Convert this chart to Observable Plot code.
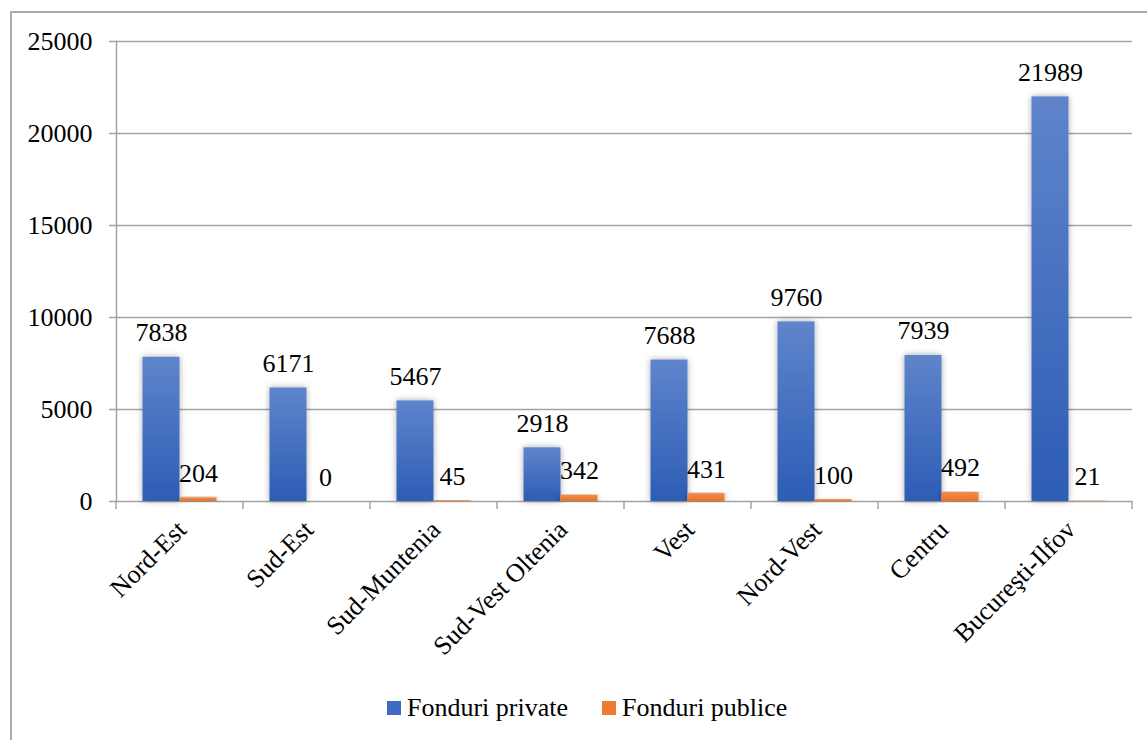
<!DOCTYPE html>
<html>
<head>
<meta charset="utf-8">
<script src="https://cdn.jsdelivr.net/npm/d3@7"></script>
<script src="https://cdn.jsdelivr.net/npm/@observablehq/plot@0.6"></script>
<style>
  html, body { margin: 0; padding: 0; background: #fff; }
  body { width: 1147px; height: 740px; position: relative; overflow: hidden;
         font-family: "Liberation Serif", "Times New Roman", serif; }
  #frame { position: absolute; left: 10px; top: 11px; width: 1200px; height: 800px;
           border-left: 2px solid #ababab; border-top: 2px solid #ababab; }
  #chart { position: absolute; left: 0; top: 0; }
  #chart svg, #chart svg text { font-family: "Liberation Serif", "Times New Roman", serif; }
  #legend { position: absolute; left: 387px; top: 693px; display: flex; align-items: center;
            font-size: 26px; color: #000; }
  #legend .sw { width: 14px; height: 14px; display: inline-block; margin-right: 6px; }
  #legend .item { display: flex; align-items: center; margin-right: 34px; }
</style>
</head>
<body>
<div id="frame"></div>
<div id="chart"></div>
<div id="legend"></div>
<script>
// Regions of Romania and funding totals per source
const regions = ["Nord-Est", "Sud-Est", "Sud-Muntenia", "Sud-Vest Oltenia", "Vest", "Nord-Vest", "Centru", "Bucureşti-Ilfov"];
const fonduriPrivate = [7838, 6171, 5467, 2918, 7688, 9760, 7939, 21989];
const fonduriPublice = [204, 0, 45, 342, 431, 100, 492, 21];
const seriesNames = ["Fonduri private", "Fonduri publice"];
const yTicks = [0, 5000, 10000, 15000, 20000, 25000];

const rows = regions.map((r, i) => ({region: r, priv: fonduriPrivate[i], pub: fonduriPublice[i]}));

const font = "Liberation Serif, Times New Roman, serif";
const gridColor = "#a3a3a3";
const fs = 26;

// Tick marks drawn at the boundaries between region bands, below the baseline
function bandBoundaryTicks(index, scales, values, dims) {
  const x = scales.x;
  const step = x(regions[1]) - x(regions[0]);
  const xs = regions.map(r => x(r)).concat([x(regions[regions.length - 1]) + step]);
  const y0 = dims.height - dims.marginBottom;
  const g = d3.create("svg:g").attr("stroke", gridColor).attr("stroke-width", 1.5);
  g.selectAll("line").data(xs).join("line")
    .attr("x1", d => d).attr("x2", d => d)
    .attr("y1", y0).attr("y2", y0 + 8);
  return g.node();
}

const chart = Plot.plot({
  width: 1147,
  height: 680,
  marginLeft: 116,
  marginRight: 15,
  marginTop: 41,
  marginBottom: 179,
  style: {fontFamily: font, fontSize: fs + "px", color: "#000", background: "transparent"},
  x: {type: "band", domain: regions, padding: 0},
  y: {domain: [0, 25000]},
  marks: [
    Plot.gridY(yTicks, {stroke: gridColor, strokeOpacity: 1, strokeWidth: 1.5}),
    Plot.axisY(yTicks, {tickSize: 7, tickPadding: 17, stroke: gridColor, strokeWidth: 1.5,
                        fontSize: fs, fontFamily: font, tickFormat: d => String(d), label: null}),
    Plot.frame({anchor: "left", stroke: gridColor, strokeWidth: 1.5}),
    Plot.axisX({tickSize: 0, tickRotate: -45, tickPadding: 24, dx: 2, fontSize: fs,
                fontFamily: font, label: null}),
    bandBoundaryTicks,
    Plot.barY(rows, {x: "region", y: "priv", fill: "url(#gradPriv)", insetLeft: 26.5, insetRight: 63.5,
                     className: "bars-priv"}),
    Plot.barY(rows, {x: "region", y: "pub", fill: "url(#gradPub)", insetLeft: 63.5, insetRight: 26.5,
                     className: "bars-pub"}),
    Plot.text(rows, {x: "region", y: "priv", text: d => String(d.priv), dx: -18.5, dy: -16,
                     lineAnchor: "bottom", fontSize: fs, fontFamily: font, fill: "#000"}),
    Plot.text(rows, {x: "region", y: "pub", text: d => String(d.pub), dx: 18.5, dy: -16,
                     lineAnchor: "bottom", fontSize: fs, fontFamily: font, fill: "#000"})
  ]
});

// Vertical gradients and soft shadow for the bars
const defs = d3.select(chart).insert("defs", ":first-child");
function addGradient(id, top, bottom) {
  const lg = defs.append("linearGradient").attr("id", id)
    .attr("x1", 0).attr("y1", 0).attr("x2", 0).attr("y2", 1);
  lg.append("stop").attr("offset", "0%").attr("stop-color", top);
  lg.append("stop").attr("offset", "100%").attr("stop-color", bottom);
}
addGradient("gradPriv", "#5f84cb", "#2d5db5");
addGradient("gradPub", "#f38d4c", "#e9731f");
const sh = defs.append("filter").attr("id", "barShadow")
  .attr("x", "-50%").attr("y", "-10%").attr("width", "200%").attr("height", "120%");
sh.append("feDropShadow").attr("dx", 0).attr("dy", 0).attr("stdDeviation", 3)
  .attr("flood-color", "#000").attr("flood-opacity", 0.35);
d3.select(chart).selectAll(".bars-priv rect, .bars-pub rect").attr("filter", "url(#barShadow)");

document.getElementById("chart").appendChild(chart);

// Legend below the chart
const legendColors = ["#3d6bc1", "#ee7b30"];
const legend = d3.select("#legend");
seriesNames.forEach((name, i) => {
  const item = legend.append("div").attr("class", "item");
  item.append("span").attr("class", "sw").style("background", legendColors[i]);
  item.append("span").text(name);
});
</script>
</body>
</html>
